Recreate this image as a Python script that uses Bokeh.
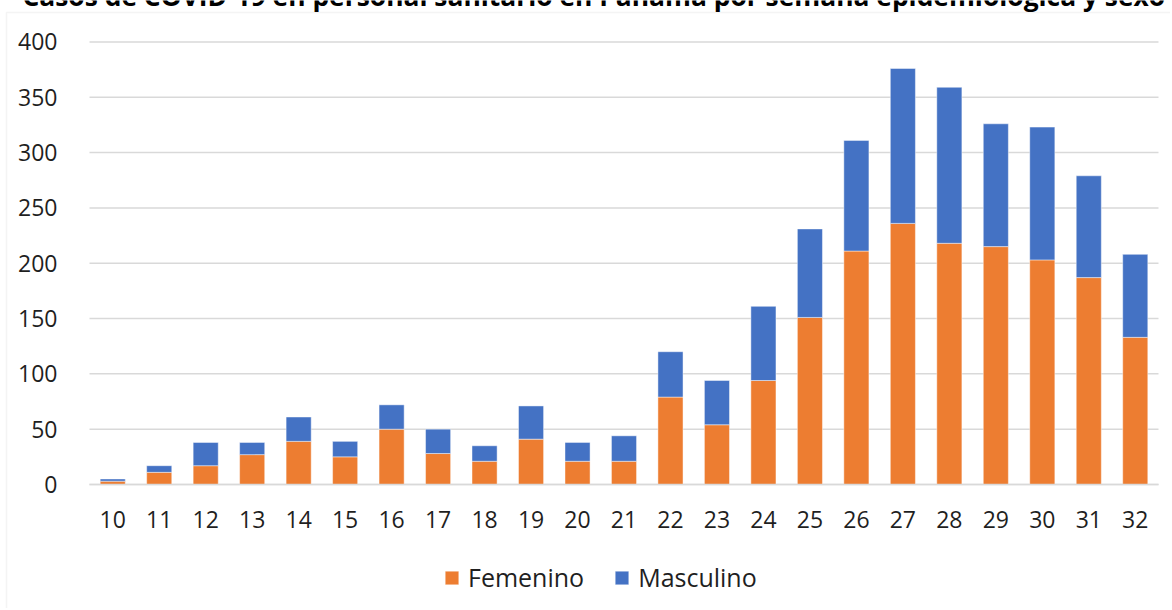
from bokeh.plotting import figure
from bokeh.models import (Range1d, Legend, LegendItem, Label, BoxAnnotation,
                          FixedTicker)
from bokeh.embed import file_html
from bokeh.resources import INLINE

# ---- data ----
title_text = "Casos de COVID-19 en personal sanitario en Panamá por semana epidemiológica y sexo"
semanas = list(range(10, 33))
femenino = [3, 11, 17, 27, 39, 25, 50, 28, 21, 41, 21, 21, 79, 54, 94, 151, 211, 236, 218, 215, 203, 187, 133]
masculino = [2, 6, 21, 11, 22, 14, 22, 22, 14, 30, 17, 23, 41, 40, 67, 80, 100, 140, 141, 111, 120, 92, 75]
y_ticks = [0, 50, 100, 150, 200, 250, 300, 350, 400]
series = ["Femenino", "Masculino"]
colors = ["#ED7D31", "#4472C4"]

FONT = "Open Sans"
TXT = "#1f1f1f"
GRID = "#d9d9d9"

W, H = 1170, 608
# layout of the plotting area in canvas pixels (the frame fills the canvas)
PX_PER_WEEK = 46.478
PX_PER_UNIT = 1.10644
X0_PX, Y0_PX = 89.0, 484.0         # left edge of week area, y of value 0
x_lo = semanas[0] - 0.5 - X0_PX / PX_PER_WEEK
x_hi = x_lo + W / PX_PER_WEEK
y_hi = Y0_PX / PX_PER_UNIT
y_lo = y_hi - H / PX_PER_UNIT

def px_x(px):
    return x_lo + px / PX_PER_WEEK

def px_y(py):
    return y_hi - py / PX_PER_UNIT

p = figure(x_range=Range1d(x_lo, x_hi), y_range=Range1d(y_lo, y_hi),
           width=W, height=H, title=None,
           output_backend="svg", toolbar_location=None,
           min_border=0, min_border_left=0, min_border_right=0,
           min_border_top=0, min_border_bottom=0)
p.outline_line_color = None
p.background_fill_color = "white"
p.border_fill_color = "white"
p.xgrid.grid_line_color = None
p.ygrid.grid_line_color = None

x_left, x_right = semanas[0] - 0.5, semanas[-1] + 0.5

# horizontal gridlines
p.segment(x0=[x_left] * len(y_ticks), x1=[x_right] * len(y_ticks),
          y0=y_ticks, y1=y_ticks, line_color=GRID, line_width=1.5)

data = {"semana": semanas, "Femenino": femenino, "Masculino": masculino}
rs = p.vbar_stack(series, x="semana", width=0.54, color=colors, source=data,
                  line_color="white", line_alpha=0.45, line_width=1)

# axes drawn at fixed data positions inside the canvas
p.yaxis.fixed_location = x_left
p.yaxis.ticker = FixedTicker(ticks=y_ticks)
p.yaxis.axis_line_color = None
p.yaxis.major_tick_line_color = None
p.yaxis.minor_tick_line_color = None
p.yaxis.major_label_standoff = 26

p.xaxis.fixed_location = 0
p.xaxis.bounds = (x_left, x_right)
p.xaxis.ticker = FixedTicker(ticks=semanas)
p.xaxis.axis_line_color = GRID
p.xaxis.axis_line_width = 1.5
p.xaxis.major_tick_line_color = None
p.xaxis.minor_tick_line_color = None
p.xaxis.major_label_standoff = 20
for ax in (p.xaxis, p.yaxis):
    ax.major_label_text_font = FONT
    ax.major_label_text_font_size = "23px"
    ax.major_label_text_color = TXT

# chart-area border (light gray, only top and left edges fall inside the picture)
border = BoxAnnotation(left=px_x(6), right=px_x(W + 50), top=px_y(12),
                       bottom=px_y(H + 50), fill_alpha=0,
                       line_color=GRID, line_width=1.5)
p.add_layout(border)

# title (clipped at the top of the picture, as in the reference)
title = Label(x=px_x(22), y=px_y(-5), text=title_text, text_font=FONT,
              text_font_style="bold", text_font_size="26.4px", text_color="black",
              text_align="left", text_baseline="alphabetic")
p.add_layout(title)

legend = Legend(items=[LegendItem(label=s, renderers=[r]) for s, r in zip(series, rs)],
                orientation="horizontal", location=(443, 14),
                glyph_width=17, glyph_height=17, label_standoff=8, spacing=29,
                padding=0, margin=0, border_line_color=None,
                background_fill_alpha=0,
                label_text_font=FONT, label_text_font_size="25px",
                label_text_color=TXT)
p.add_layout(legend, "center")

open("out.html", "w").write(file_html(p, INLINE))
